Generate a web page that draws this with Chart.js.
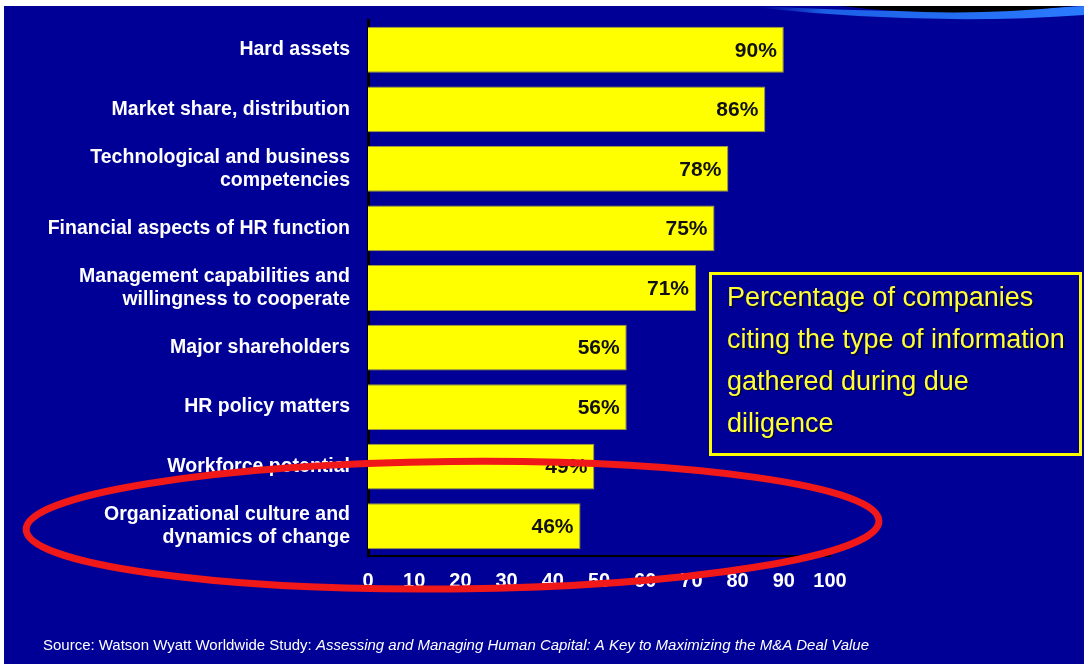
<!DOCTYPE html>
<html>
<head>
<meta charset="utf-8">
<script src="https://cdn.jsdelivr.net/npm/chart.js@4"></script>
<style>
  html, body { margin: 0; padding: 0; background: #ffffff; }
  #wrap { width: 1084px; height: 664px; }
</style>
</head>
<body>
<div id="wrap"><canvas id="ddChart" width="1084" height="664"></canvas></div>
<script>
// Types of information gathered during due diligence
const categories = [
  'Hard assets',
  'Market share, distribution',
  ['Technological and business', 'competencies'],
  'Financial aspects of HR function',
  ['Management capabilities and', 'willingness to cooperate'],
  'Major shareholders',
  'HR policy matters',
  'Workforce potential',
  ['Organizational culture and', 'dynamics of change']
];
const percentCiting = [90, 86, 78, 75, 71, 56, 56, 49, 46];
const xTickValues = [0, 10, 20, 30, 40, 50, 60, 70, 80, 90, 100];

const boxLines = [
  'Percentage of companies',
  'citing the type of information',
  'gathered during due',
  'diligence'
];
const sourcePlain = 'Source: Watson Wyatt Worldwide Study: ';
const sourceItalic = 'Assessing and Managing Human Capital: A Key to Maximizing the M&A Deal Value';

const BG = '#000096';
const FONT = '"Liberation Sans", Arial, sans-serif';

// slide background + the blue swoosh in the top corner
const slideBackground = {
  id: 'slideBackground',
  beforeDraw(chart) {
    const c = chart.ctx;
    c.save();
    c.fillStyle = '#ffffff';
    c.fillRect(0, 0, chart.width, chart.height);
    c.fillStyle = BG;
    c.fillRect(4, 6, chart.width - 4, chart.height - 6);
    // light blue band
    const g = c.createLinearGradient(760, 0, 1084, 0);
    g.addColorStop(0, 'rgba(30,90,230,0)');
    g.addColorStop(0.2, '#1c5fe6');
    g.addColorStop(1, '#2b7bff');
    c.fillStyle = g;
    c.beginPath();
    c.moveTo(760, 6);
    c.quadraticCurveTo(930, 16, 1084, 6);
    c.lineTo(1084, 15);
    c.quadraticCurveTo(930, 26, 760, 8);
    c.closePath();
    c.fill();
    // black cap above it
    c.fillStyle = '#000000';
    c.beginPath();
    c.moveTo(840, 6);
    c.quadraticCurveTo(950, 19, 1074, 6);
    c.closePath();
    c.fill();
    c.restore();
  }
};

// percentage printed inside the end of each bar
const barValues = {
  id: 'barValues',
  afterDatasetsDraw(chart) {
    const c = chart.ctx;
    const meta = chart.getDatasetMeta(0);
    c.save();
    c.font = 'bold 21px ' + FONT;
    c.fillStyle = '#111111';
    c.textAlign = 'right';
    c.textBaseline = 'middle';
    meta.data.forEach((bar, i) => {
      c.fillText(percentCiting[i] + '%', bar.x - 7, bar.y + 1);
    });
    c.restore();
  }
};

// caption box, red ellipse round the last two rows, source line
const overlays = {
  id: 'overlays',
  afterDraw(chart) {
    const c = chart.ctx;
    const x = chart.scales.x, y = chart.scales.y;
    c.save();

    // caption box
    c.strokeStyle = '#ffff00';
    c.lineWidth = 3;
    c.strokeRect(710.5, 273.5, 370, 181);
    c.font = '27px ' + FONT;
    c.textAlign = 'left';
    c.textBaseline = 'middle';
    boxLines.forEach((line, i) => {
      const ly = 299 + i * 41.7;
      c.fillStyle = 'rgba(0,0,0,0.55)';
      c.fillText(line, 728.5, ly + 1.5);
      c.fillStyle = '#ffff33';
      c.fillText(line, 727, ly);
    });

    // red ellipse, placed on the scales
    const cx = x.getPixelForValue(18.3);
    const rx = x.getPixelForValue(110.6) - cx;
    const band = y.getPixelForValue(1) - y.getPixelForValue(0);
    const cy = y.getPixelForValue(8) - 1;
    const ry = band * 1.07;
    c.strokeStyle = '#f01818';
    c.lineWidth = 7;
    c.beginPath();
    c.ellipse(cx, cy, rx, ry, -0.01, 0, Math.PI * 2);
    c.stroke();

    // source line, slightly condensed
    c.fillStyle = '#ffffff';
    c.textBaseline = 'middle';
    c.font = '15px ' + FONT;
    const w1 = c.measureText(sourcePlain).width;
    c.font = 'italic 15px ' + FONT;
    const w2 = c.measureText(sourceItalic).width;
    const sx = 826 / (w1 + w2);
    c.translate(43, 646);
    c.scale(sx, 1);
    c.font = '15px ' + FONT;
    c.fillText(sourcePlain, 0, 0);
    c.font = 'italic 15px ' + FONT;
    c.fillText(sourceItalic, w1, 0);
    c.restore();
  }
};

const ctx = document.getElementById('ddChart').getContext('2d');
const ddChart = new Chart(ctx, {
  type: 'bar',
  data: {
    labels: categories,
    datasets: [{
      data: percentCiting,
      backgroundColor: '#ffff00',
      borderColor: '#9a9a3a',
      borderWidth: 1,
      borderSkipped: 'left',
      barPercentage: 0.77,
      categoryPercentage: 1
    }]
  },
  options: {
    indexAxis: 'y',
    responsive: false,
    animation: false,
    layout: { padding: { top: 20, right: 254, bottom: 0, left: 0 } },
    plugins: {
      legend: { display: false },
      tooltip: { enabled: false }
    },
    scales: {
      x: {
        min: 0,
        max: 100,
        afterBuildTicks(scale) {
          scale.ticks = xTickValues.map(v => ({ value: v }));
        },
        afterFit(scale) { scale.height = 108; },
        grid: { display: false, drawTicks: false },
        border: { display: true, color: '#000000', width: 2 },
        ticks: {
          color: '#ffffff',
          padding: 13,
          font: { family: FONT, size: 20, weight: 'bold' },
          maxRotation: 0
        }
      },
      y: {
        afterFit(scale) {
          scale.width = 368;
          // keep the label heights from pushing the plot area down
          scale.paddingTop = 0;
          scale.paddingBottom = 0;
        },
        grid: { display: false, drawTicks: false },
        border: { display: true, color: '#000000', width: 3 },
        ticks: {
          color: '#ffffff',
          padding: 18,
          font: { family: FONT, size: 19.5, weight: 'bold', lineHeight: 1.18 }
        }
      }
    }
  },
  plugins: [slideBackground, barValues, overlays]
});
</script>
</body>
</html>
